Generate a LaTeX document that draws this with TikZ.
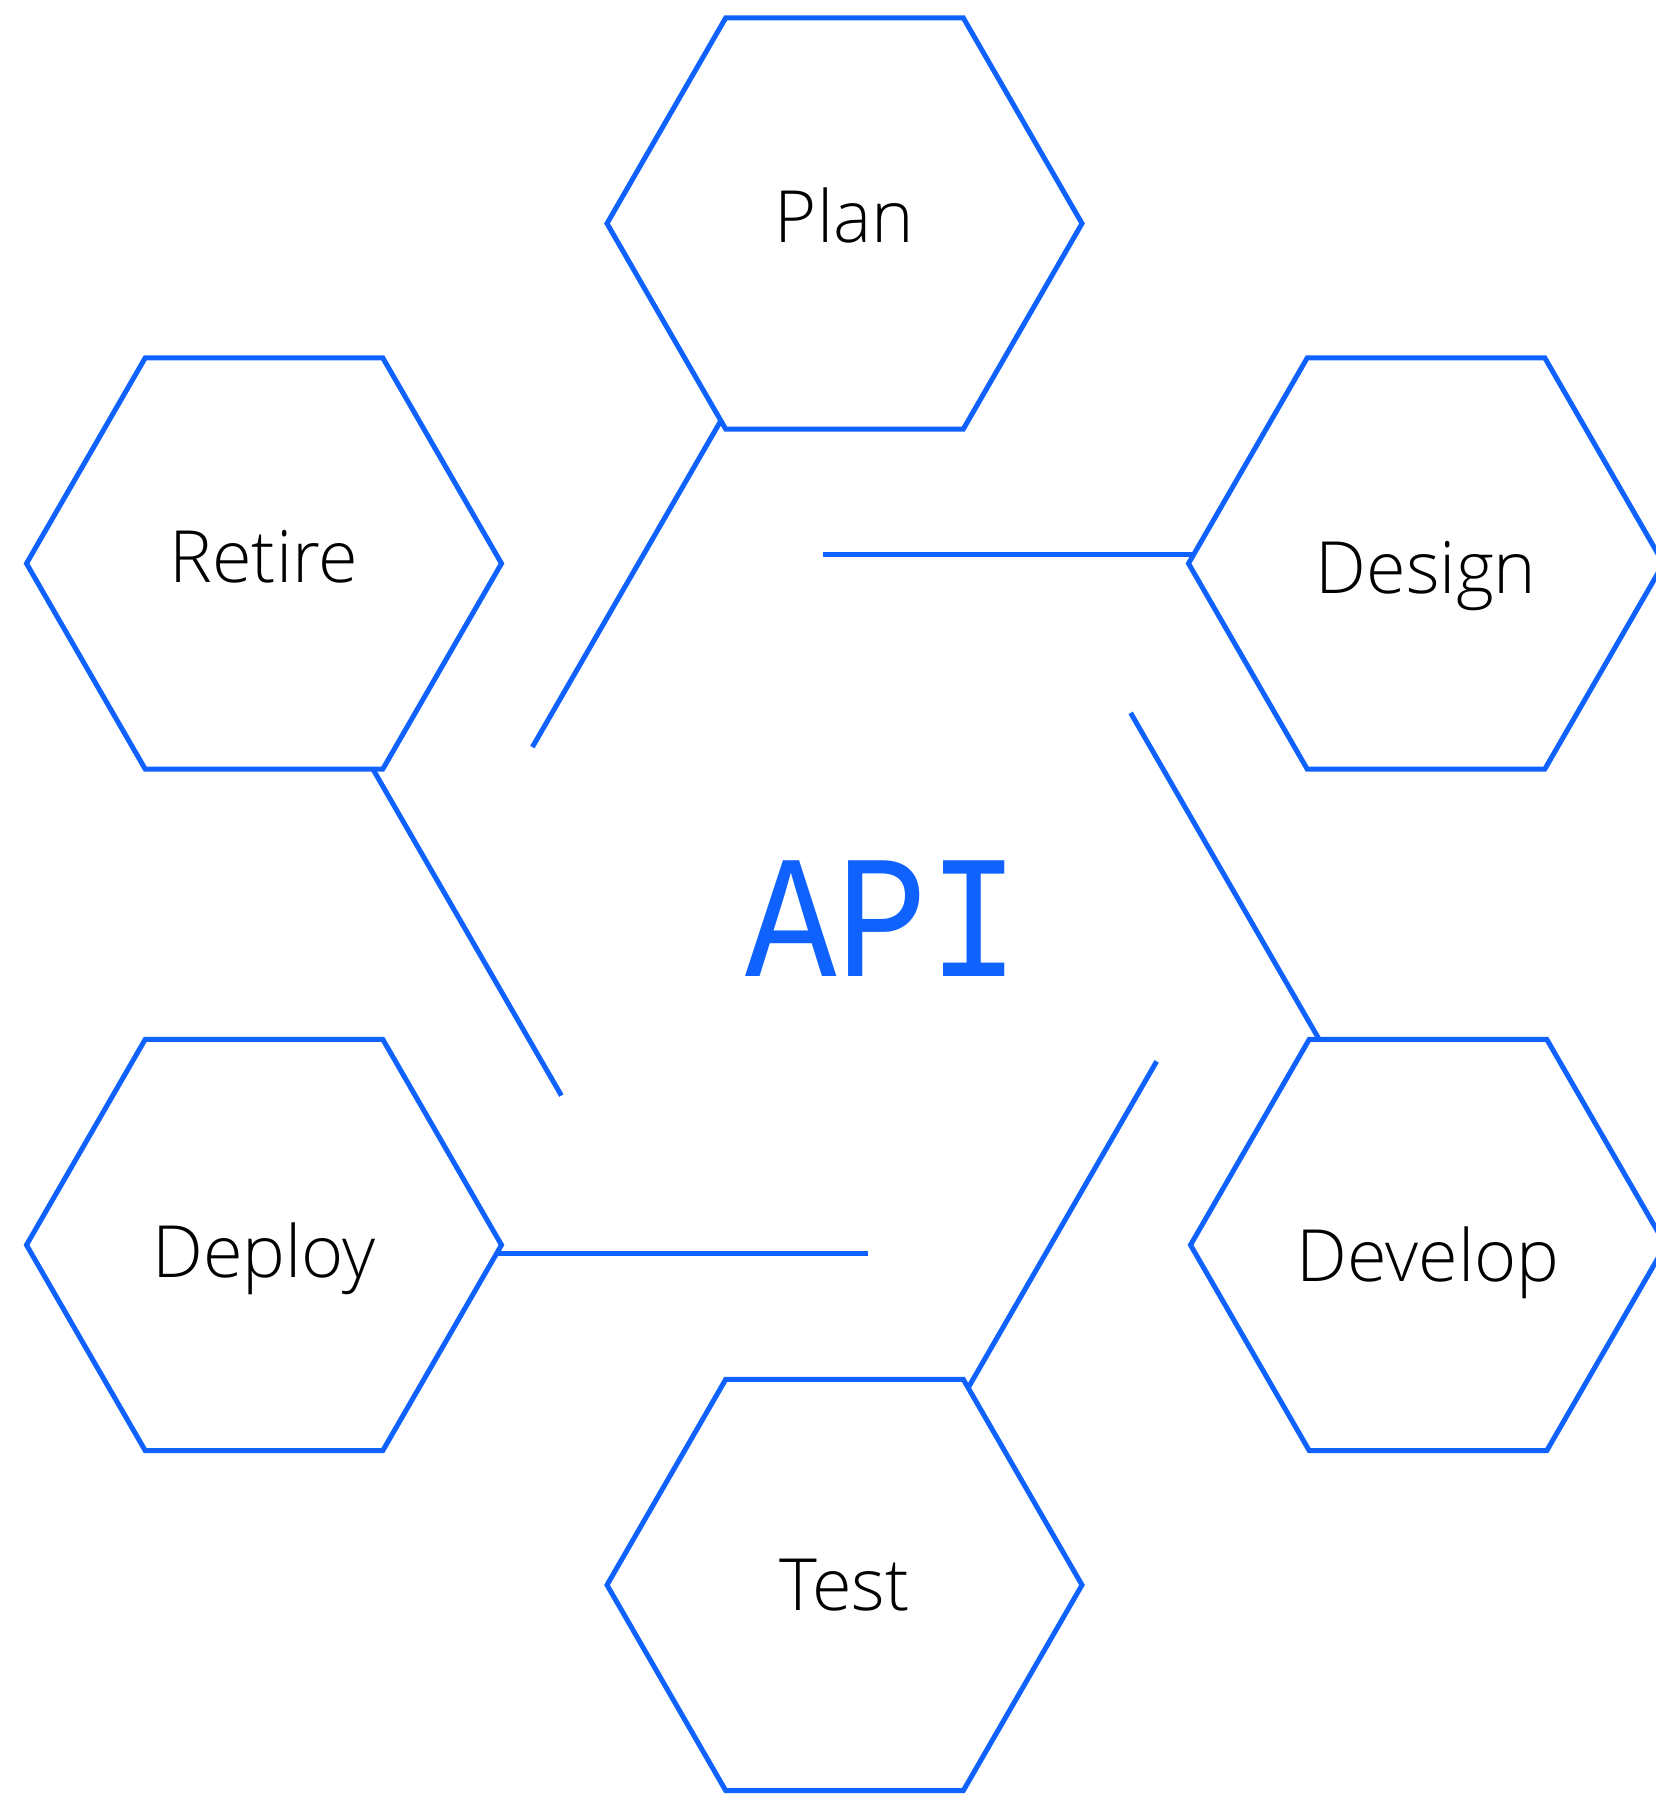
\documentclass[tikz,border=0pt]{standalone}
\usepackage{graphicx}
\usepackage{fontspec}
\setmainfont{Open Sans}[UprightFont={* Light}]
\newfontfamily\apifont{Liberation Mono}
\usetikzlibrary{shapes.geometric}
\definecolor{apiblue}{HTML}{0F62FE}
\begin{document}
\begin{tikzpicture}
    \tikzstyle{phase}=[regular polygon,regular polygon sides=6,draw=apiblue,line width=0.1cm,
        minimum size=9.5cm,inner sep=0pt,outer sep=0pt,text height=0.76cm,text depth=0pt,
        font=\fontsize{41}{48}\selectfont]
    \tikzstyle{link}=[draw=apiblue,line width=0.1cm]
    \useasboundingbox (0,0) rectangle (33.1,35.92);
    \begin{scope}
        \node [phase] (plan)    at (16.89,31.45) {Plan};
        \node [phase,text height=1.2cm]  (design)  at (28.52,24.65) {Design};
        \node [phase,text height=1.46cm] (develop) at (28.56,11.02) {Develop};
        \node [phase,text height=1.04cm] (test)    at (16.89,4.22)  {Test};
        \node [phase,text height=1.32cm] (deploy)  at (5.28,11.02)  {Deploy};
        \node [phase] (retire)  at (5.28,24.65)  {Retire};
        \node [text=apiblue,font=\apifont\fontsize{100}{110}\selectfont] (api) at (17.65,17.54) {\scalebox{0.867}[1]{API}};
        % each phase sends one stroke towards the middle
        \foreach \hex/\k/\ang/\len in {plan/4/240/7.44,design/3/180/7.32,develop/2/120/7.44,
                                       test/1/60/7.44,deploy/6/0/7.32,retire/5/300/7.44} {
            \coordinate (\hex-end) at ([shift={(\ang-90:0.17)},shift={(\ang:\len)}]\hex.corner \k);
            \path[link] ([shift={(\ang-90:0.17)},shift={(\ang:-0.1)}]\hex.corner \k) -- (\hex-end);
        }
    \end{scope}
\end{tikzpicture}
\end{document}
